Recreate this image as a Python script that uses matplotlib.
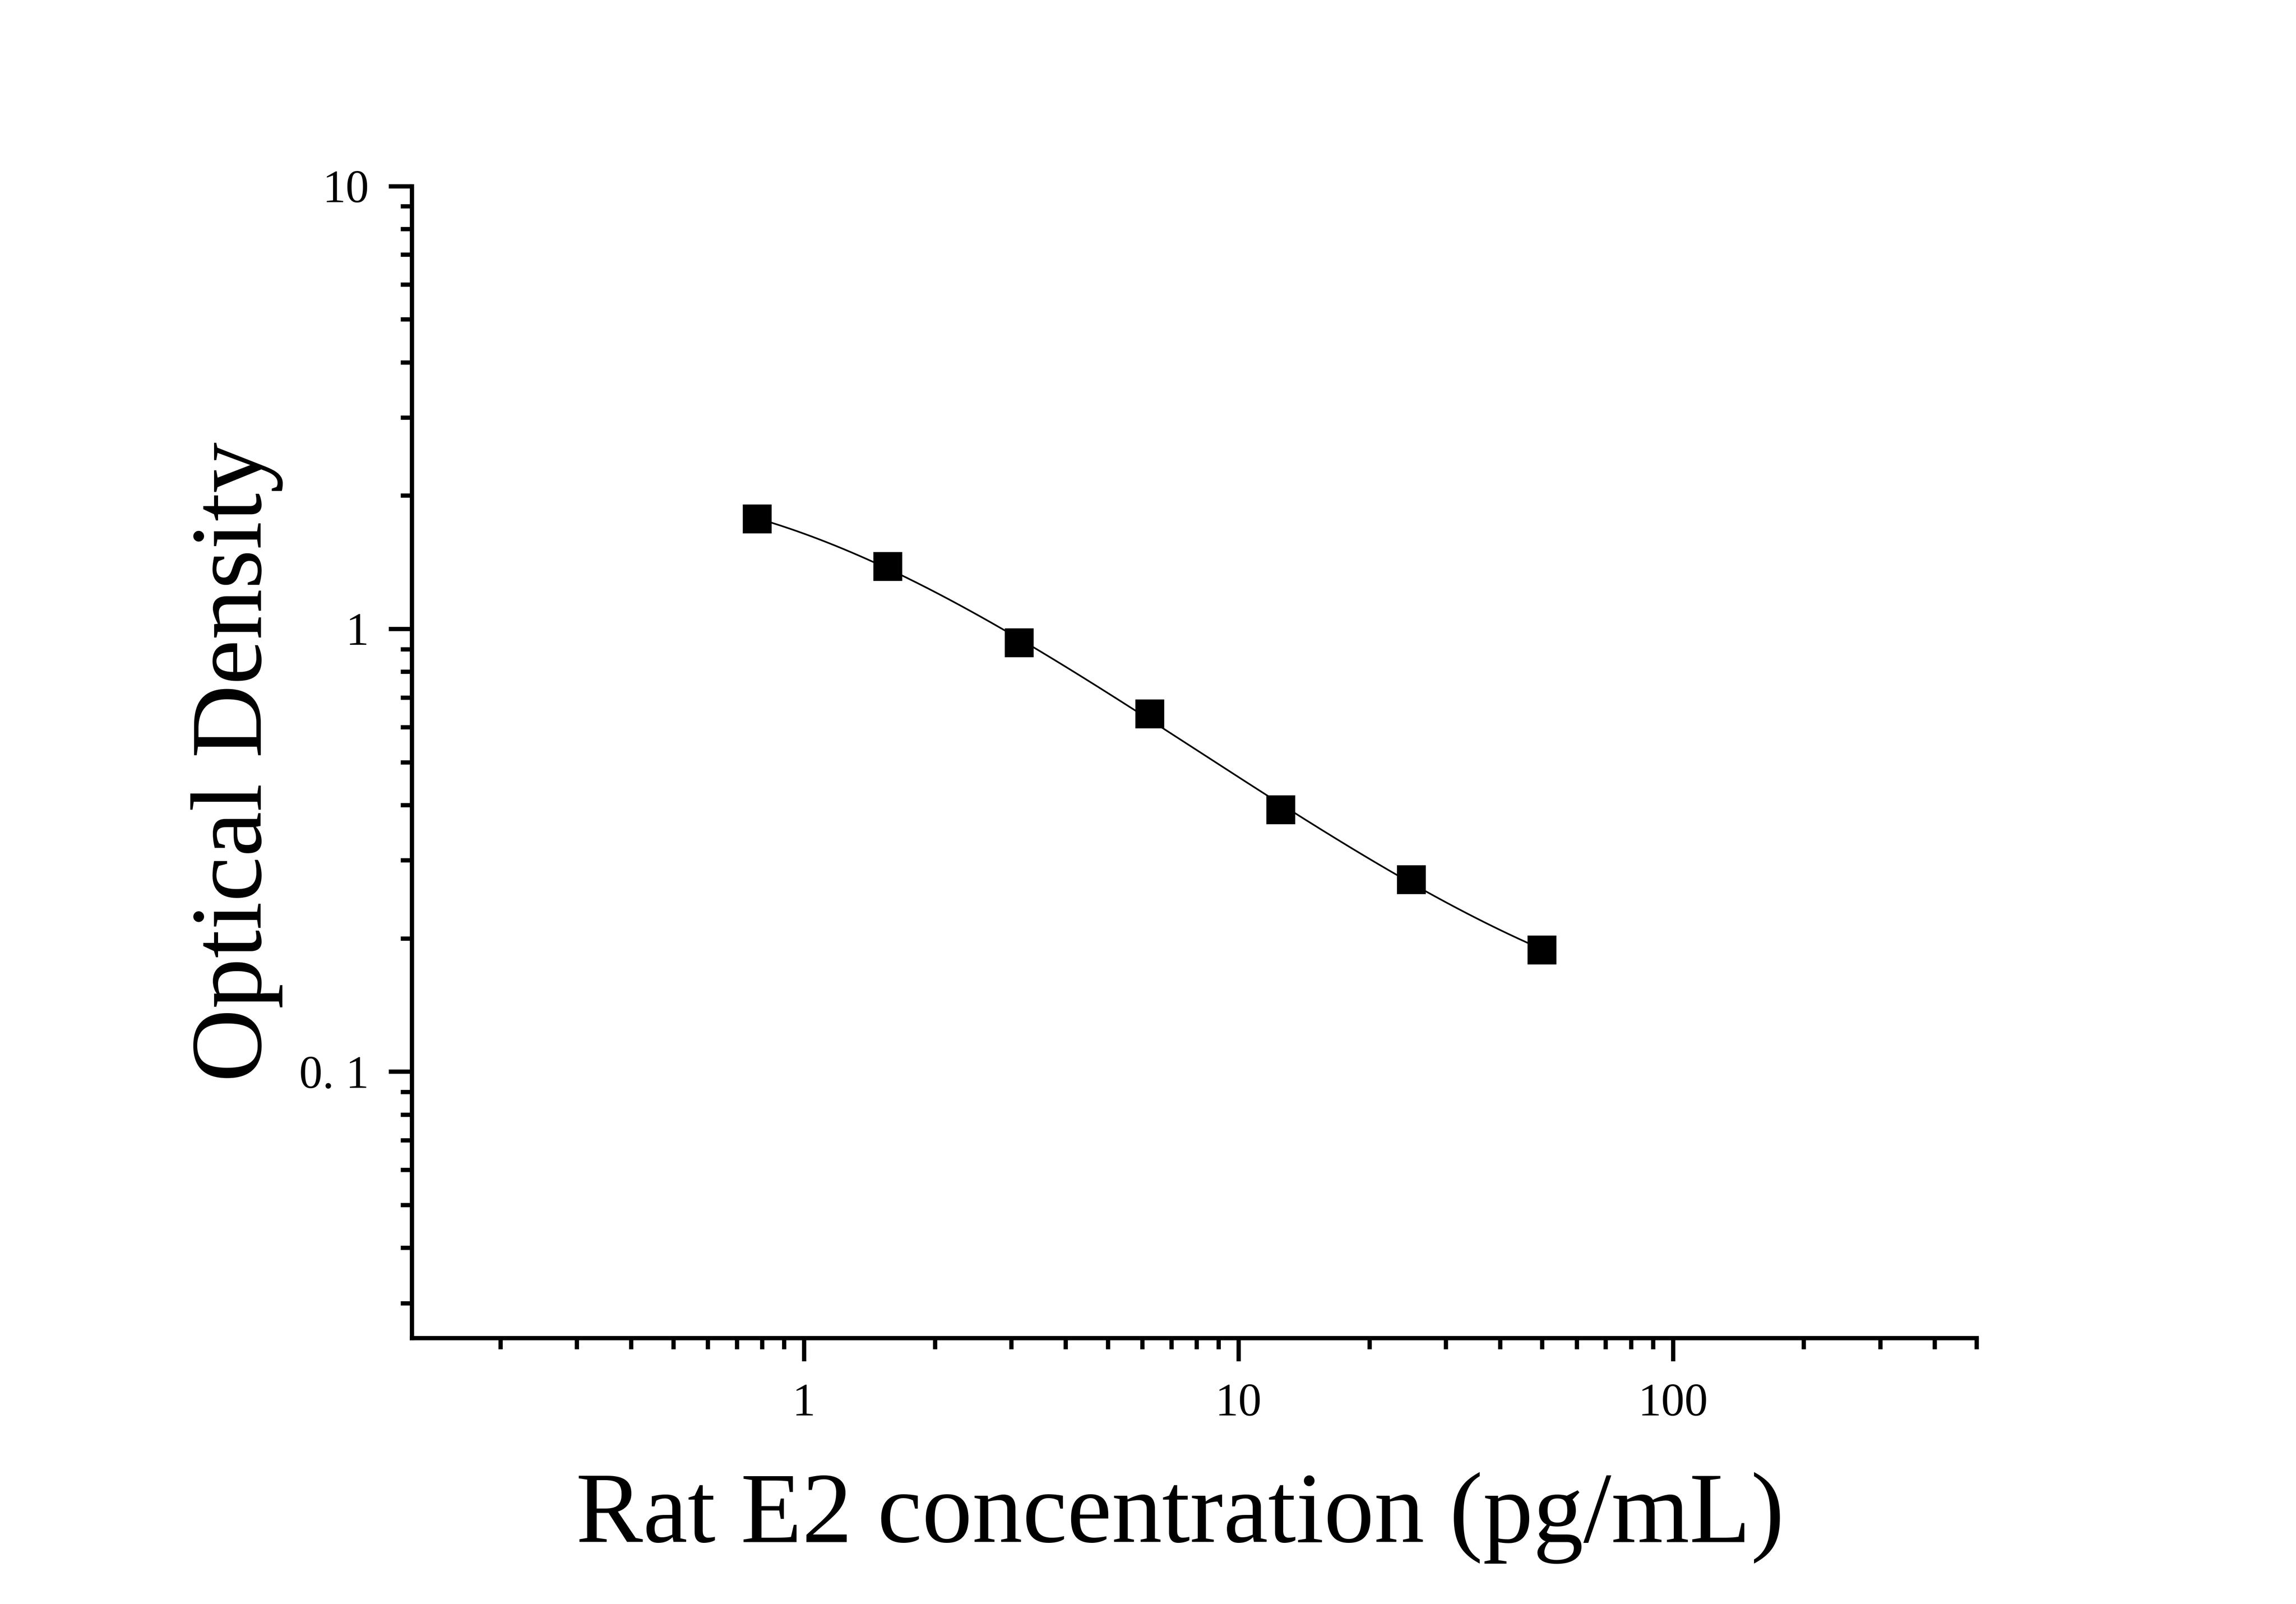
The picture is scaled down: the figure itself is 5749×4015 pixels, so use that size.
import numpy as np
import matplotlib
matplotlib.use("Agg")
import matplotlib.pyplot as plt
from matplotlib.ticker import LogLocator, NullFormatter

# standard curve values
conc = [0.78, 1.56, 3.125, 6.25, 12.5, 25, 50]
od = [1.771, 1.382, 0.929, 0.642, 0.390, 0.271, 0.188]

x_ticks = [1, 10, 100]
x_labels = ["1", "10", "100"]
y_ticks = [0.1, 1, 10]
y_labels = ["0. 1", "1", "10"]

plt.rcParams['font.family'] = ['Liberation Serif', 'DejaVu Serif']

fig = plt.figure(figsize=(5749 / 600, 4015 / 600), dpi=600)
ax = fig.add_axes([0.1793, 0.1658, 0.6816, 0.7182])

# smooth fitted line through the standards (cubic in log-log space)
lx = np.log10(conc)
ly = np.log10(od)
coef = np.polyfit(lx, ly, 3)
xs = np.linspace(lx[0], lx[-1], 300)
ax.plot(10 ** xs, 10 ** np.polyval(coef, xs), color='black', lw=0.5, zorder=2)
ax.plot(conc, od, linestyle='none', marker='s', markersize=7.7,
        color='black', zorder=3, clip_on=False)

ax.set_xscale('log')
ax.set_yscale('log')
ax.set_xlim(0.125, 500)
ax.set_ylim(0.025, 10)

ax.set_xticks(x_ticks)
ax.set_xticklabels(x_labels)
ax.set_yticks(y_ticks)
ax.set_yticklabels(y_labels)
ax.xaxis.set_minor_locator(LogLocator(base=10, subs=np.arange(2, 10), numticks=20))
ax.yaxis.set_minor_locator(LogLocator(base=10, subs=np.arange(2, 10), numticks=20))
ax.xaxis.set_minor_formatter(NullFormatter())
ax.yaxis.set_minor_formatter(NullFormatter())

ax.spines['top'].set_visible(False)
ax.spines['right'].set_visible(False)
for s in ['left', 'bottom']:
    ax.spines[s].set_linewidth(1.28)

ax.tick_params(which='major', direction='out', length=7.0, width=1.28,
               labelsize=14)
ax.tick_params(which='minor', direction='out', length=3.4, width=1.28)
ax.tick_params(axis='x', which='major', pad=6.5)
ax.tick_params(axis='y', which='major', pad=5.8)

ax.set_xlabel("Rat E2 concentration (pg/mL)", fontsize=30.2)
ax.set_ylabel("Optical Density", fontsize=30.5)
ax.xaxis.set_label_coords(0.491, -0.116)
ax.yaxis.set_label_coords(-0.082, 0.5)

fig.savefig("out.png", dpi=600)
